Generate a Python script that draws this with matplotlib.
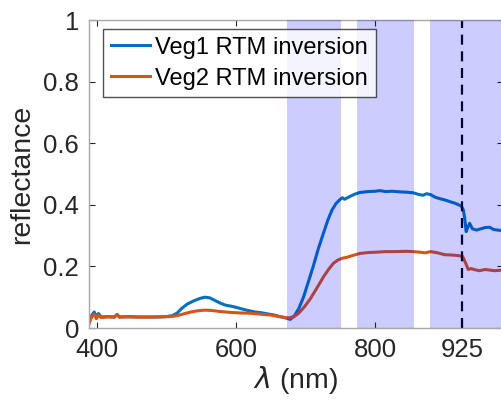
import matplotlib
matplotlib.use("Agg")
import matplotlib.pyplot as plt

# -- Spectra (reflectance vs wavelength, nm)

wl_veg1 = [388, 392, 396, 399, 402, 406, 415, 425, 429, 432, 445, 460, 475,
           490, 500, 508, 515, 522, 530, 540, 548, 555, 562, 570, 578, 585,
           595, 605, 615, 625, 635, 645, 655, 665, 672, 678, 684, 690, 697,
           704, 711, 718, 726, 732, 738, 744, 750, 753, 756, 762, 770, 778,
           790, 800, 807, 815, 825, 835, 845, 855, 862, 869, 874, 880, 886,
           893, 900, 908, 915, 920, 924, 927, 929, 931, 933, 936, 940, 946,
           952, 958, 965, 970, 976, 984]
refl_veg1 = [0.016, 0.040, 0.052, 0.035, 0.047, 0.036, 0.037, 0.036, 0.044,
             0.036, 0.037, 0.036, 0.036, 0.036, 0.037, 0.040, 0.048, 0.064,
             0.078, 0.089, 0.096, 0.100, 0.098, 0.089, 0.080, 0.074, 0.070,
             0.064, 0.058, 0.053, 0.050, 0.046, 0.042, 0.036, 0.032, 0.028,
             0.040, 0.062, 0.100, 0.150, 0.200, 0.255, 0.310, 0.350, 0.383,
             0.405, 0.418, 0.423, 0.418, 0.425, 0.434, 0.440, 0.443, 0.444,
             0.446, 0.443, 0.444, 0.442, 0.441, 0.439, 0.434, 0.431, 0.436,
             0.433, 0.425, 0.420, 0.416, 0.410, 0.405, 0.400, 0.396, 0.383,
             0.355, 0.313, 0.325, 0.340, 0.322, 0.318, 0.322, 0.326, 0.327,
             0.320, 0.318, 0.316]

wl_veg2 = [388, 392, 396, 399, 402, 406, 415, 425, 429, 432, 445, 460, 475,
           490, 505, 515, 525, 535, 545, 555, 565, 575, 590, 605, 620, 635,
           650, 665, 675, 683, 690, 698, 706, 715, 726, 733, 740, 746, 752,
           760, 770, 778, 790, 800, 815, 830, 845, 855, 865, 872, 880, 890,
           900, 910, 920, 926, 930, 934, 938, 942, 950, 958, 965, 972, 984]
refl_veg2 = [0.010, 0.035, 0.045, 0.030, 0.042, 0.034, 0.036, 0.035, 0.044,
             0.035, 0.036, 0.035, 0.035, 0.036, 0.037, 0.040, 0.046, 0.052,
             0.056, 0.058, 0.057, 0.054, 0.051, 0.049, 0.048, 0.045, 0.042,
             0.036, 0.033, 0.036, 0.048, 0.068, 0.092, 0.125, 0.167, 0.190,
             0.210, 0.220, 0.226, 0.230, 0.237, 0.242, 0.245, 0.246, 0.248,
             0.248, 0.249, 0.248, 0.246, 0.244, 0.248, 0.244, 0.238, 0.237,
             0.235, 0.232, 0.212, 0.190, 0.193, 0.190, 0.186, 0.190, 0.188,
             0.186, 0.188]

# fitting windows and the split wavelength
bands = [(673, 751), (774, 856), (879, 1000)]
split_wl = 925

x_ticks = [400, 600, 800, 925]
y_ticks = [0, 0.2, 0.4, 0.6, 0.8, 1]
y_ticklabels = ["0", "0.2", "0.4", "0.6", "0.8", "1"]

BLUE = "#0072BD"
ORANGE = "#D95319"

plt.rcParams["font.family"] = ["Liberation Sans", "DejaVu Sans"]
plt.rcParams["mathtext.fontset"] = "dejavusans"

W, H = 501, 405
fig = plt.figure(figsize=(W / 100, H / 100), dpi=100)
ax = fig.add_axes([88.7 / W, (H - 328) / H, (503 - 88.7) / W, 308 / H])

ax.plot(wl_veg1, refl_veg1, color=BLUE, lw=2.2, zorder=2,
        label="Veg1 RTM inversion")
ax.plot(wl_veg2, refl_veg2, color=ORANGE, lw=2.2, zorder=2,
        label="Veg2 RTM inversion")
ax.axvline(split_wl, color="black", lw=1.6, ls=(0, (4.5, 3)), zorder=2)

for lo, hi in bands:
    ax.axvspan(lo, hi, color="blue", alpha=0.2, lw=0, zorder=3)

ax.set_xlim(388, 984)
ax.set_ylim(0, 1)
ax.set_xticks(x_ticks)
ax.set_yticks(y_ticks)
ax.set_yticklabels(y_ticklabels)
ax.tick_params(direction="in", length=4, width=0.8, top=True, right=True,
               labelsize=18.5, colors="#262626", pad=7)
for s in ax.spines.values():
    s.set_color("#a8a8a8")
    s.set_linewidth(1)

ax.set_xlabel(r"$\lambda$ (nm)", fontsize=20.5, color="#262626", labelpad=2)
ax.set_ylabel("reflectance", fontsize=20.5, color="#262626", labelpad=6)

leg = ax.legend(loc="upper left", bbox_to_anchor=(103 / W, 1 - 29 / H),
                bbox_transform=fig.transFigure, fontsize=17, frameon=True,
                fancybox=False, borderpad=0.32, handlelength=1.65,
                handletextpad=0.25, labelspacing=0.38, borderaxespad=0)
leg.get_frame().set_edgecolor("#262626")
leg.get_frame().set_linewidth(1)
leg.set_zorder(5)

fig.savefig("out.png", dpi=100)
